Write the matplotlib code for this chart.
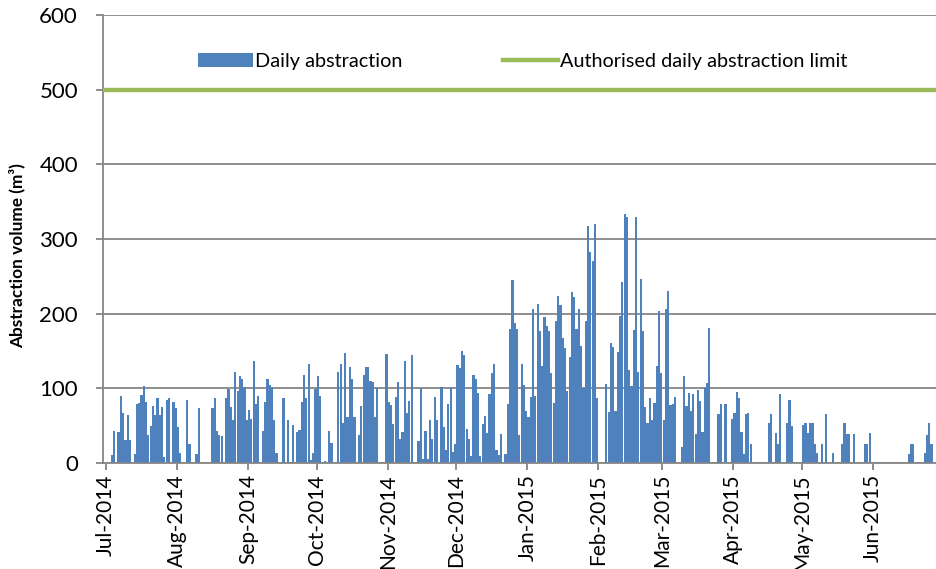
import numpy as np
import pandas as pd
import matplotlib
matplotlib.use("Agg")
import matplotlib.pyplot as plt
import matplotlib.dates as mdates
from matplotlib.patches import Patch
from matplotlib.lines import Line2D

plt.rcParams['font.family'] = ['Lato', 'DejaVu Sans']

# --- daily abstraction (m3), one list per month ---
jul_2014 = [0, 0, 11, 43, 0, 42, 90, 67, 31, 64, 31, 0, 12, 79, 81, 91, 103, 82, 37, 49,
            76, 64, 87, 64, 75, 8, 85, 87, 0, 82, 73]
aug_2014 = [48, 14, 0, 2, 84, 25, 0, 0, 12, 74, 0, 0, 0, 0, 0, 74, 87, 43, 37, 36,
            0, 87, 99, 75, 58, 122, 96, 116, 112, 102, 58]
sep_2014 = [71, 59, 136, 79, 90, 0, 43, 82, 113, 104, 102, 58, 14, 0, 0, 87, 0, 58, 0, 51,
            0, 41, 44, 82, 118, 87, 132, 4, 13, 99]
oct_2014 = [116, 90, 0, 3, 0, 43, 27, 0, 0, 122, 133, 54, 147, 61, 129, 113, 61, 2, 37, 76,
            118, 129, 129, 110, 109, 62, 101, 0, 0, 0, 146]
nov_2014 = [82, 78, 52, 88, 108, 32, 42, 137, 67, 83, 145, 0, 0, 29, 101, 6, 43, 6, 58, 32,
            89, 58, 0, 102, 48, 18, 79, 102, 15, 26]
dec_2014 = [131, 127, 150, 145, 45, 32, 9, 118, 113, 94, 9, 52, 63, 40, 93, 121, 132, 18, 11, 39,
            0, 12, 79, 179, 245, 187, 179, 37, 132, 105, 69]
jan_2015 = [62, 89, 206, 90, 213, 177, 130, 196, 184, 177, 121, 81, 190, 224, 212, 168, 154, 96, 142, 229,
            222, 180, 206, 157, 101, 190, 317, 283, 271, 320, 87]
feb_2015 = [0, 0, 0, 106, 68, 161, 156, 70, 148, 197, 243, 333, 330, 124, 103, 178, 329, 122, 247, 177,
            75, 54, 87, 58, 81, 130, 204, 121]
mar_2015 = [57, 206, 231, 78, 79, 88, 0, 0, 21, 117, 76, 94, 69, 93, 39, 98, 83, 42, 100, 107,
            181, 0, 0, 0, 66, 79, 0, 79, 0, 0, 59]
apr_2015 = [67, 95, 87, 42, 12, 66, 67, 25, 0, 0, 0, 0, 0, 0, 0, 54, 66, 0, 40, 26,
            93, 0, 0, 54, 84, 50, 0, 0, 0, 0]
may_2015 = [51, 54, 40, 54, 54, 26, 13, 0, 25, 0, 66, 0, 0, 13, 0, 0, 0, 25, 54, 39,
            39, 0, 39, 0, 0, 0, 0, 25, 25, 40, 0]
jun_2015 = [0, 0, 0, 0, 0, 0, 0, 0, 0, 0, 0, 0, 0, 0, 0, 12, 26, 25, 0, 0,
            0, 0, 13, 37, 54, 25, 0, 0, 0, 0]

AUTHORISED_LIMIT = 500

daily = (jul_2014 + aug_2014 + sep_2014 + oct_2014 + nov_2014 + dec_2014 +
         jan_2015 + feb_2015 + mar_2015 + apr_2015 + may_2015 + jun_2015)
dates = pd.date_range('2014-07-01', '2015-06-30', freq='D')

BAR_BLUE = '#4F81BD'
LIMIT_GREEN = '#9BBB59'
GRID_GREY = '#868686'

fig = plt.figure(figsize=(9.36, 5.69), dpi=100)
ax = fig.add_axes([103 / 936, 106 / 569, 833 / 936, 448 / 569])

x = mdates.date2num(dates) + 0.5
ax.bar(x, daily, width=0.95, color=BAR_BLUE, linewidth=0, zorder=2)
ax.axhline(AUTHORISED_LIMIT, color=LIMIT_GREEN, linewidth=3.2, zorder=3)

x0 = mdates.date2num(pd.Timestamp('2014-07-01'))
ax.set_xlim(x0 - 1.3, x0 - 1.3 + 833 / 2.29)
ax.set_ylim(0, 600)
ax.set_yticks(range(0, 601, 100))

ax.xaxis.set_major_locator(mdates.MonthLocator())
ax.xaxis.set_major_formatter(mdates.DateFormatter('%b-%Y'))
ax.tick_params(axis='x', labelrotation=90, labelsize=15, length=5, width=1.3,
               color=GRID_GREY, pad=3)
ax.tick_params(axis='y', labelsize=16, length=5, width=1.3, color=GRID_GREY, pad=13)

ax.yaxis.grid(True, color=GRID_GREY, linewidth=1.3, zorder=0)
ax.set_axisbelow(True)
for side in ['top', 'right']:
    ax.spines[side].set_visible(False)
for side in ['left', 'bottom']:
    ax.spines[side].set_color(GRID_GREY)
    ax.spines[side].set_linewidth(1.3)

ax.set_ylabel('Abstraction volume (m³)', fontsize=12.4, fontweight='bold')
ax.yaxis.set_label_coords(-0.093, 0.462)

handles = [Patch(facecolor=BAR_BLUE, edgecolor='none'),
           Line2D([0], [0], color=LIMIT_GREEN, linewidth=3.2)]
ax.legend(handles, ['Daily abstraction', 'Authorised daily abstraction limit'],
          loc='upper center', bbox_to_anchor=(0.504, 0.955), ncol=2, frameon=False,
          fontsize=14.3, handlelength=2.75, handleheight=0.7, handletextpad=0.12,
          columnspacing=5.05)

fig.savefig('out.png', dpi=100)
